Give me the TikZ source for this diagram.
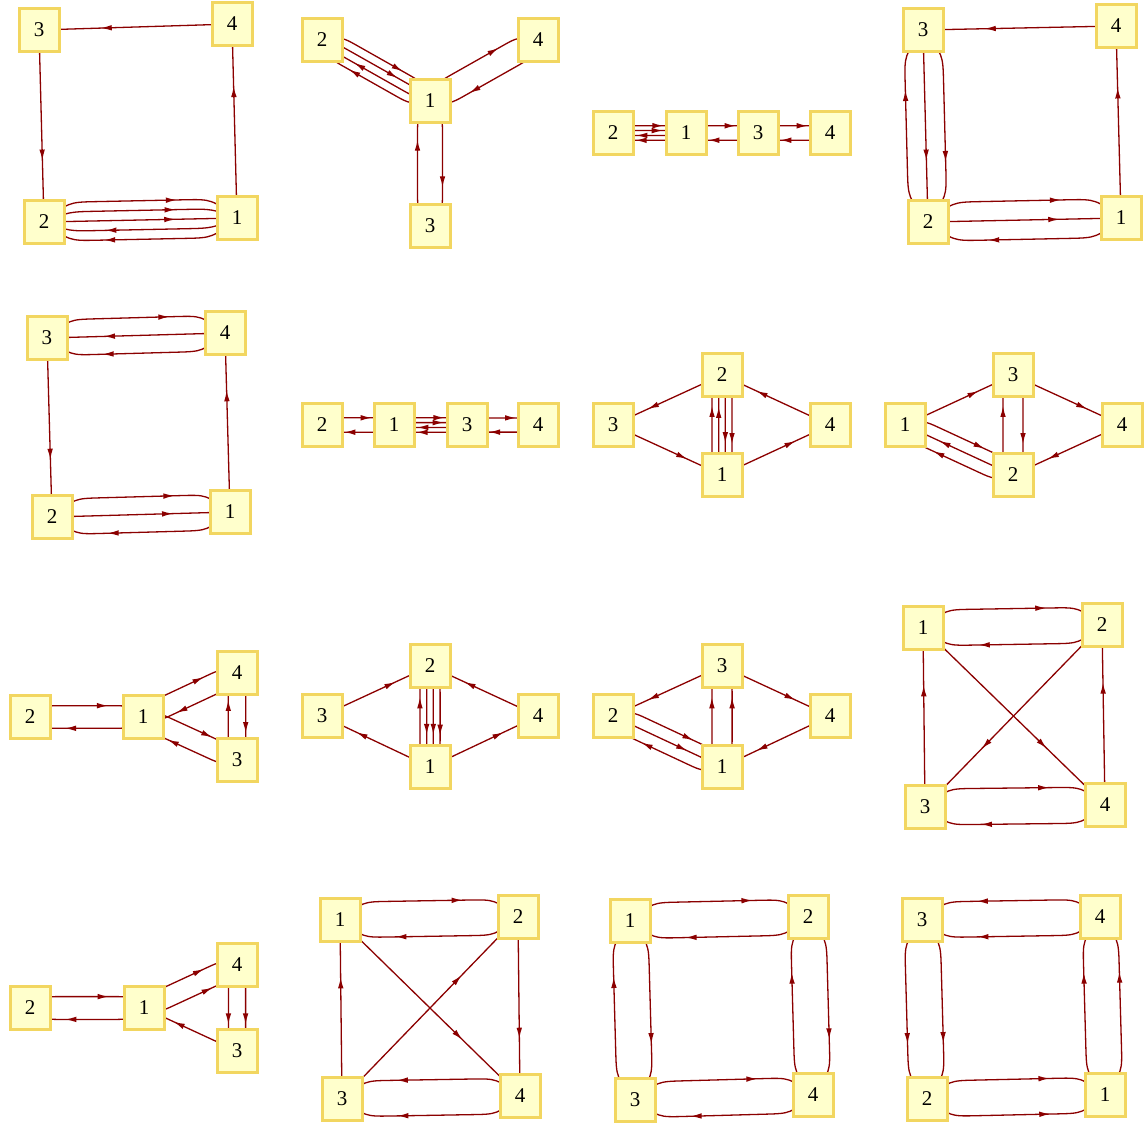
\documentclass[tikz,border=0pt]{standalone}
\usepackage{fontspec}
\setmainfont{Liberation Serif}
\usetikzlibrary{calc,decorations.markings,arrows.meta}
\pgfdeclarelayer{bg}
\pgfsetlayers{bg,main}
\definecolor{boxfill}{RGB}{255,255,204}
\definecolor{boxline}{RGB}{242,214,96}
\definecolor{edgecol}{RGB}{139,0,0}
\tikzset{
 vbox/.style={draw=boxline, fill=boxfill, line width=1.5pt, minimum width=20pt, minimum height=21.5pt, inner sep=0pt, font=\fontsize{10.5}{12}\selectfont},
 conn/.style={draw=edgecol, line width=0.65pt},
 fwd/.style={postaction={decorate,decoration={markings,mark=at position 0.68 with {\arrow{Latex[length=5.5pt,width=2.8pt]}}}}},
 bwd/.style={postaction={decorate,decoration={markings,mark=at position 0.32 with {\arrowreversed{Latex[length=5.5pt,width=2.8pt]}}}}},
}
% #1 from, #2 to, #3 perpendicular offset (fraction of length), #4 fwd/bwd
\newcommand\medge[4]{%
 \draw[conn,#4] (#1.center)
  .. controls ($(#1)!0.13!(#2)+(#1)!#3!90:(#2)-(#1)$)
  .. ($(#1)!0.27!(#2)+(#1)!#3!90:(#2)-(#1)$)
  -- ($(#1)!0.73!(#2)+(#1)!#3!90:(#2)-(#1)$)
  .. controls ($(#1)!0.87!(#2)+(#1)!#3!90:(#2)-(#1)$)
  .. (#2.center);}
\begin{document}
\begin{tikzpicture}[x=0.5pt,y=-0.5pt]
\useasboundingbox (0,0) rectangle (1146,1126);
% graph 1
\node[vbox] (a3) at (39,30) {3};
\node[vbox] (a4) at (232,24) {4};
\node[vbox] (a2) at (44,222) {2};
\node[vbox] (a1) at (237,218) {1};
% graph 2
\node[vbox] (b2) at (322,40) {2};
\node[vbox] (b4) at (538,40) {4};
\node[vbox] (b1) at (430,101) {1};
\node[vbox] (b3) at (430,226) {3};
% graph 3
\node[vbox] (c2) at (613,133) {2};
\node[vbox] (c1) at (686,133) {1};
\node[vbox] (c3) at (758,133) {3};
\node[vbox] (c4) at (830,133) {4};
% graph 4
\node[vbox] (d3) at (923,30) {3};
\node[vbox] (d4) at (1116,26) {4};
\node[vbox] (d2) at (928,222) {2};
\node[vbox] (d1) at (1121,218) {1};
% graph 5
\node[vbox] (e3) at (47,338) {3};
\node[vbox] (e4) at (225,333) {4};
\node[vbox] (e2) at (52,517) {2};
\node[vbox] (e1) at (230,512) {1};
% graph 6
\node[vbox] (f2) at (322,425) {2};
\node[vbox] (f1) at (394,425) {1};
\node[vbox] (f3) at (467,425) {3};
\node[vbox] (f4) at (538,425) {4};
% graph 7
\node[vbox] (g2) at (722,375) {2};
\node[vbox] (g3) at (613,425) {3};
\node[vbox] (g4) at (830,425) {4};
\node[vbox] (g1) at (722,475) {1};
% graph 8
\node[vbox] (h3) at (1013,375) {3};
\node[vbox] (h1) at (905,425) {1};
\node[vbox] (h4) at (1122,425) {4};
\node[vbox] (h2) at (1013,475) {2};
% graph 9
\node[vbox] (i2) at (30,717) {2};
\node[vbox] (i1) at (143,717) {1};
\node[vbox] (i4) at (237,673) {4};
\node[vbox] (i3) at (237,760) {3};
% graph 10
\node[vbox] (j2) at (430,666) {2};
\node[vbox] (j3) at (322,716) {3};
\node[vbox] (j4) at (538,716) {4};
\node[vbox] (j1) at (430,767) {1};
% graph 11
\node[vbox] (k3) at (722,666) {3};
\node[vbox] (k2) at (613,716) {2};
\node[vbox] (k4) at (830,716) {4};
\node[vbox] (k1) at (722,767) {1};
% graph 12
\node[vbox] (l1) at (923,628) {1};
\node[vbox] (l2) at (1102,625) {2};
\node[vbox] (l3) at (925,807) {3};
\node[vbox] (l4) at (1105,805) {4};
% graph 13
\node[vbox] (m2) at (30,1008) {2};
\node[vbox] (m1) at (144,1008) {1};
\node[vbox] (m4) at (237,965) {4};
\node[vbox] (m3) at (237,1051) {3};
% graph 14
\node[vbox] (n1) at (340,920) {1};
\node[vbox] (n2) at (518,917) {2};
\node[vbox] (n3) at (342,1099) {3};
\node[vbox] (n4) at (520,1096) {4};
% graph 15
\node[vbox] (o1) at (630,921) {1};
\node[vbox] (o2) at (808,917) {2};
\node[vbox] (o3) at (635,1100) {3};
\node[vbox] (o4) at (813,1095) {4};
% graph 16
\node[vbox] (p3) at (922,920) {3};
\node[vbox] (p4) at (1100,917) {4};
\node[vbox] (p2) at (927,1099) {2};
\node[vbox] (p1) at (1105,1095) {1};

\begin{pgfonlayer}{bg}
% graph 1
\medge{a4}{a3}{0}{fwd}
\medge{a3}{a2}{0}{fwd}
\medge{a1}{a4}{0}{fwd}
\medge{a2}{a1}{0.1}{fwd}
\medge{a2}{a1}{0.05}{fwd}
\medge{a2}{a1}{0}{fwd}
\medge{a2}{a1}{-0.05}{bwd}
\medge{a2}{a1}{-0.1}{bwd}
% graph 2
\medge{b2}{b1}{0.1}{fwd}
\medge{b2}{b1}{0.033}{fwd}
\medge{b2}{b1}{-0.033}{bwd}
\medge{b2}{b1}{-0.1}{bwd}
\medge{b1}{b4}{0.1}{fwd}
\medge{b1}{b4}{-0.1}{bwd}
\medge{b3}{b1}{0.1}{fwd}
\medge{b3}{b1}{-0.1}{bwd}
% graph 3
\medge{c2}{c1}{0.1}{fwd}
\medge{c2}{c1}{0.033}{fwd}
\medge{c2}{c1}{-0.033}{bwd}
\medge{c2}{c1}{-0.1}{bwd}
\medge{c1}{c3}{0.1}{fwd}
\medge{c1}{c3}{-0.1}{bwd}
\medge{c3}{c4}{0.1}{fwd}
\medge{c3}{c4}{-0.1}{bwd}
% graph 4
\medge{d4}{d3}{0}{fwd}
\medge{d1}{d4}{0}{fwd}
\medge{d3}{d2}{0.1}{fwd}
\medge{d3}{d2}{0}{fwd}
\medge{d3}{d2}{-0.1}{bwd}
\medge{d2}{d1}{0.1}{fwd}
\medge{d2}{d1}{0}{fwd}
\medge{d2}{d1}{-0.1}{bwd}
% graph 5
\medge{e3}{e4}{0.1}{fwd}
\medge{e3}{e4}{0}{bwd}
\medge{e3}{e4}{-0.1}{bwd}
\medge{e3}{e2}{0}{fwd}
\medge{e1}{e4}{0}{fwd}
\medge{e2}{e1}{0.1}{fwd}
\medge{e2}{e1}{0}{fwd}
\medge{e2}{e1}{-0.1}{bwd}
% graph 6
\medge{f2}{f1}{0.1}{fwd}
\medge{f2}{f1}{-0.1}{bwd}
\medge{f1}{f3}{0.1}{fwd}
\medge{f1}{f3}{0.033}{fwd}
\medge{f1}{f3}{-0.033}{bwd}
\medge{f1}{f3}{-0.1}{bwd}
\medge{f3}{f4}{0.1}{fwd}
\medge{f3}{f4}{-0.1}{bwd}
% graph 7
\medge{g2}{g3}{0}{fwd}
\medge{g3}{g1}{0}{fwd}
\medge{g1}{g4}{0}{fwd}
\medge{g4}{g2}{0}{fwd}
\medge{g1}{g2}{0.1}{fwd}
\medge{g1}{g2}{0.033}{fwd}
\medge{g1}{g2}{-0.033}{bwd}
\medge{g1}{g2}{-0.1}{bwd}
% graph 8
\medge{h1}{h3}{0}{fwd}
\medge{h3}{h4}{0}{fwd}
\medge{h4}{h2}{0}{fwd}
\medge{h2}{h3}{0.1}{fwd}
\medge{h2}{h3}{-0.1}{bwd}
\medge{h1}{h2}{0.1}{fwd}
\medge{h1}{h2}{0}{bwd}
\medge{h1}{h2}{-0.1}{bwd}
% graph 9
\medge{i2}{i1}{0.1}{fwd}
\medge{i2}{i1}{-0.1}{bwd}
\medge{i1}{i4}{0.1}{fwd}
\medge{i1}{i4}{-0.1}{bwd}
\medge{i1}{i3}{0.1}{fwd}
\medge{i1}{i3}{-0.1}{bwd}
\medge{i3}{i4}{0.1}{fwd}
\medge{i3}{i4}{-0.1}{bwd}
% graph 10
\medge{j3}{j2}{0}{fwd}
\medge{j1}{j3}{0}{fwd}
\medge{j1}{j4}{0}{fwd}
\medge{j4}{j2}{0}{fwd}
\medge{j1}{j2}{0.1}{fwd}
\medge{j1}{j2}{0.033}{bwd}
\medge{j1}{j2}{-0.033}{bwd}
\medge{j1}{j2}{-0.1}{bwd}
% graph 11
\medge{k3}{k2}{0}{fwd}
\medge{k3}{k4}{0}{fwd}
\medge{k4}{k1}{0}{fwd}
\medge{k1}{k3}{0.1}{fwd}
\medge{k1}{k3}{-0.1}{fwd}
\medge{k2}{k1}{0.1}{fwd}
\medge{k2}{k1}{0}{fwd}
\medge{k2}{k1}{-0.1}{bwd}
% graph 12
\medge{l1}{l2}{0.1}{fwd}
\medge{l1}{l2}{-0.1}{bwd}
\medge{l3}{l1}{0}{fwd}
\medge{l4}{l2}{0}{fwd}
\medge{l1}{l4}{0}{fwd}
\medge{l2}{l3}{0}{fwd}
\medge{l3}{l4}{0.1}{fwd}
\medge{l3}{l4}{-0.1}{bwd}
% graph 13
\medge{m2}{m1}{0.1}{fwd}
\medge{m2}{m1}{-0.1}{bwd}
\medge{m1}{m4}{0.1}{fwd}
\medge{m1}{m4}{-0.1}{fwd}
\medge{m3}{m1}{0}{fwd}
\medge{m4}{m3}{0.1}{fwd}
\medge{m4}{m3}{-0.1}{fwd}
% graph 14
\medge{n1}{n2}{0.1}{fwd}
\medge{n1}{n2}{-0.1}{bwd}
\medge{n3}{n1}{0}{fwd}
\medge{n2}{n4}{0}{fwd}
\medge{n1}{n4}{0}{fwd}
\medge{n3}{n2}{0}{fwd}
\medge{n3}{n4}{0.1}{bwd}
\medge{n3}{n4}{-0.1}{bwd}
% graph 15
\medge{o1}{o2}{0.1}{fwd}
\medge{o1}{o2}{-0.1}{bwd}
\medge{o3}{o1}{0.1}{fwd}
\medge{o3}{o1}{-0.1}{bwd}
\medge{o4}{o2}{0.1}{fwd}
\medge{o4}{o2}{-0.1}{bwd}
\medge{o3}{o4}{0.1}{fwd}
\medge{o3}{o4}{-0.1}{bwd}
% graph 16
\medge{p4}{p3}{0.1}{fwd}
\medge{p4}{p3}{-0.1}{fwd}
\medge{p3}{p2}{0.1}{fwd}
\medge{p3}{p2}{-0.1}{fwd}
\medge{p2}{p1}{0.1}{fwd}
\medge{p2}{p1}{-0.1}{fwd}
\medge{p1}{p4}{0.1}{fwd}
\medge{p1}{p4}{-0.1}{fwd}
\end{pgfonlayer}
\end{tikzpicture}
\end{document}
